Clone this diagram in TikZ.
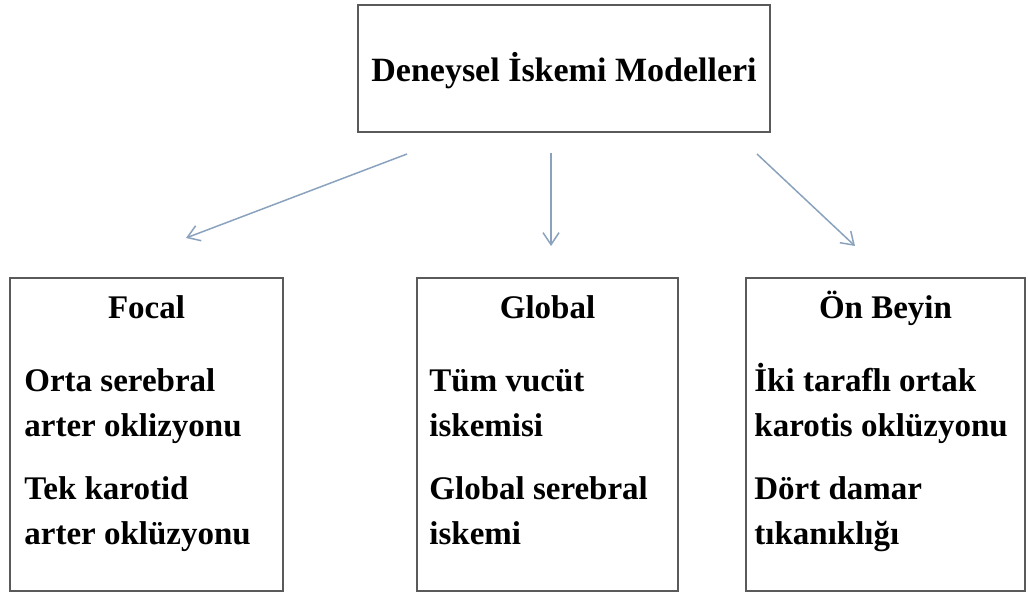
\documentclass[tikz,border=0pt]{standalone}
\usepackage{fontspec}
\setmainfont{Liberation Serif}
\usepackage{tikz}
\usetikzlibrary{arrows.meta,positioning,calc}
\definecolor{boxgray}{HTML}{5A5A5A}
\definecolor{arrowblue}{HTML}{8AA2BE}

\begin{document}
\begin{tikzpicture}[x=0.5pt,y=-0.5pt,
  topbox/.style={draw=boxgray,line width=1pt,inner sep=0pt,minimum width=206pt,minimum height=63.5pt},
  groupbox/.style={draw=boxgray,line width=1pt,inner sep=0pt,minimum height=156.5pt},
  head/.style={anchor=base,inner sep=0pt,font=\fontsize{16.5}{20}\selectfont\bfseries},
  item/.style={anchor=base west,inner sep=0pt,align=left,font=\fontsize{16.5}{22.5}\selectfont\bfseries},
  arr/.style={draw=arrowblue,line width=0.75pt,-{Straight Barb[length=6pt,width=8pt]}}]
  \useasboundingbox (0,0) rectangle (1028,593);

  % Main box
  \node[topbox] (top) at (564,68.5) {};
  \node[anchor=base,inner sep=0pt,font=\fontsize{17}{20}\selectfont\bfseries] (toptitle) at ($(top.north)+(0,78)$) {Deneysel İskemi Modelleri};

  % Focal
  \node[groupbox,minimum width=136.5pt] (focal) at (146.5,434.5) {};
  \node[head] (focalhead) at ($(focal.north)+(0,42)$) {Focal};
  \node[item] (focala) at ($(focal.north west)+(15,267)$) {Orta serebral\\arter oklizyonu\\[9pt]Tek karotid\\arter oklüzyonu};

  % Global
  \node[groupbox,minimum width=130.5pt] (global) at (547.5,434.5) {};
  \node[head] (globalhead) at ($(global.north)+(0,42)$) {Global};
  \node[item] (globala) at ($(global.north west)+(13,267)$) {Tüm vucüt\\iskemisi\\[9pt]Global serebral\\iskemi};

  % Ön Beyin
  \node[groupbox,minimum width=139.5pt] (onbeyin) at (885.5,434.5) {};
  \node[head] (onbeyinhead) at ($(onbeyin.north)+(0,42)$) {Ön Beyin};
  \node[item] (onbeyina) at ($(onbeyin.north west)+(9,267)$) {İki taraflı ortak\\karotis oklüzyonu\\[9pt]Dört damar\\tıkanıklığı};

  % Arrows
  \draw[arr] ([xshift=-78.5pt,yshift=-10.5pt]top.south) -- ([xshift=19.75pt,yshift=19.5pt]focal.north);
  \draw[arr] ([xshift=-6.5pt,yshift=-10pt]top.south) -- ([xshift=1.75pt,yshift=15.5pt]global.north);
  \draw[arr] ([xshift=96.5pt,yshift=-10.5pt]top.south) -- ([xshift=-15.25pt,yshift=15.5pt]onbeyin.north);
\end{tikzpicture}
\end{document}
